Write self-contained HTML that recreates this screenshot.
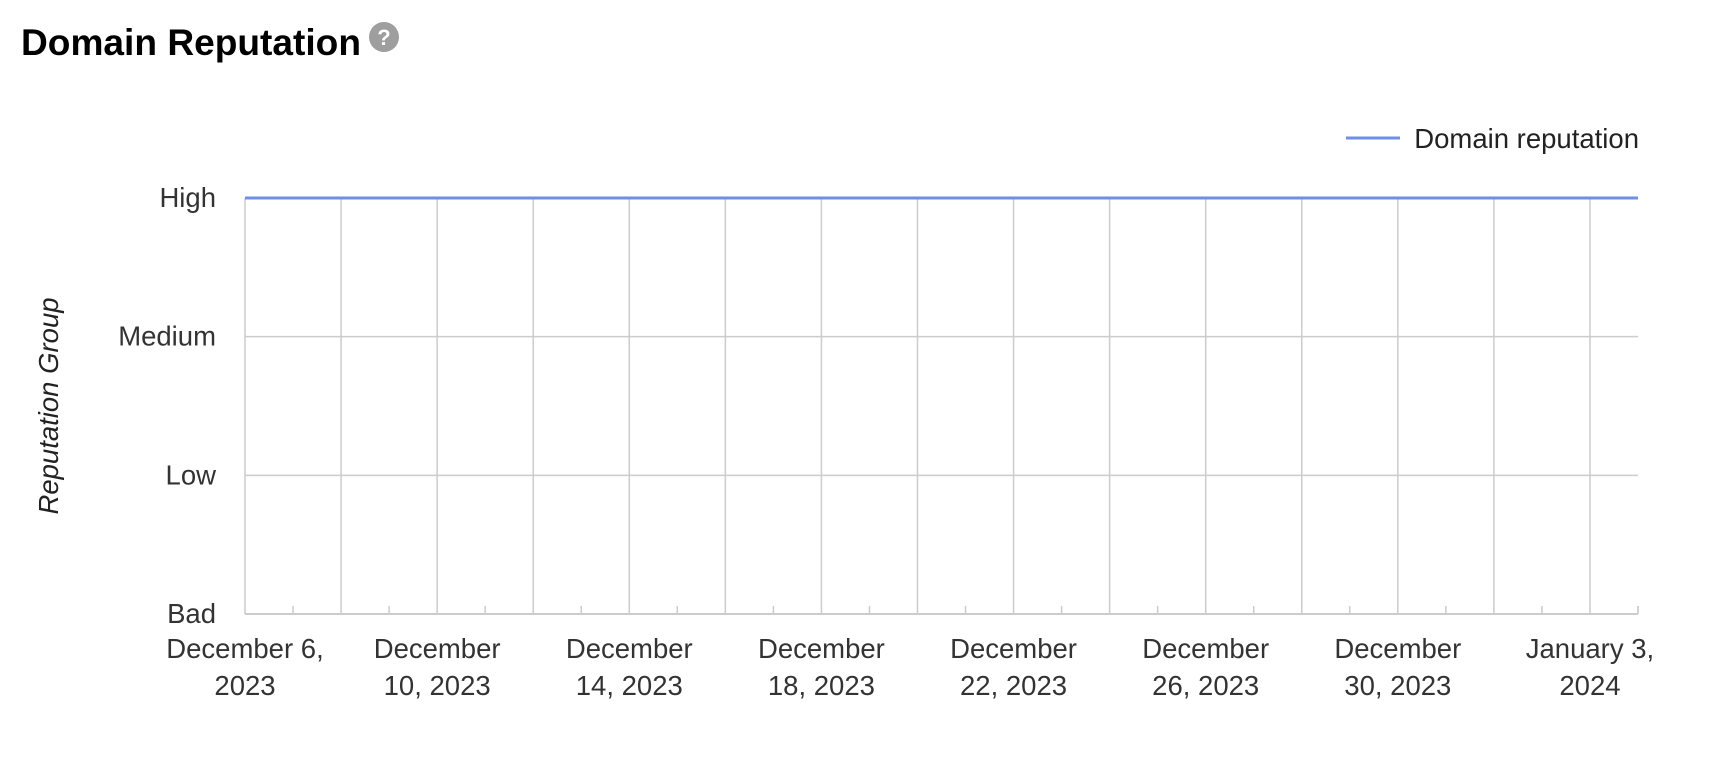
<!DOCTYPE html>
<html><head><meta charset="utf-8">
<style>
html,body{margin:0;padding:0;background:#fff;width:1712px;height:764px;overflow:hidden;font-family:"Liberation Sans",Arial,sans-serif;}
</style></head>
<body>
<svg id="chart" width="1712" height="764" xmlns="http://www.w3.org/2000/svg" font-family="Liberation Sans, Arial, sans-serif">
<text x="21" y="55" font-size="37" font-weight="bold" fill="#000" textLength="340" lengthAdjust="spacingAndGlyphs">Domain Reputation</text>
<g>
<circle cx="384" cy="37" r="15" fill="#9e9e9e"/>
<text x="384" y="45" font-size="22" font-weight="bold" fill="#fff" text-anchor="middle">?</text>
</g>
<g>
<line x1="1346" y1="138" x2="1400" y2="138" stroke="#6d8fe8" stroke-width="3"/>
<text x="1639" y="148" font-size="27.5" fill="#222" text-anchor="end">Domain reputation</text>
</g>
<text transform="translate(58,406) rotate(-90)" font-size="27.5" font-style="italic" fill="#222" text-anchor="middle">Reputation Group</text>
<g id="grid"></g>
<g id="marks"></g>
</svg>
<script>
const levels = ["Bad","Low","Medium","High"];
const tickLabels = [["December 6,","2023"],["December","10, 2023"],["December","14, 2023"],["December","18, 2023"],["December","22, 2023"],["December","26, 2023"],["December","30, 2023"],["January 3,","2024"]];
const days = [0,1,2,3,4,5,6,7,8,9,10,11,12,13,14,15,16,17,18,19,20,21,22,23,24,25,26,27,28,29];
const values = [3,3,3,3,3,3,3,3,3,3,3,3,3,3,3,3,3,3,3,3,3,3,3,3,3,3,3,3,3,3];

const X0=245, X1=1638, Y0=614, Y1=198, NDAYS=29;
const x = d => X0 + (X1-X0)*d/NDAYS;
const y = v => Y0 - (Y0-Y1)*v/(levels.length-1);
const NS="http://www.w3.org/2000/svg";
const grid=document.getElementById('grid'), marks=document.getElementById('marks');
function mk(tag, attrs, parent){const e=document.createElementNS(NS,tag);for(const k in attrs)e.setAttribute(k,attrs[k]);parent.appendChild(e);return e;}

levels.forEach((lab,i)=>{
  if(i>0){
    const l=mk('line',{x1:X0,x2:X1,y1:y(i),y2:y(i),stroke:'#ccc','stroke-width':1.5},grid);
    
    
  }
  const t=mk('text',{x:216,y:y(i)+9,'font-size':27.5,fill:'#333','text-anchor':'end'},grid);
  t.textContent=lab;
  
  
});
for(let d=0; d<=NDAYS; d++){
  if(d%2===0 && d>0 && d<NDAYS){
    const l=mk('line',{x1:x(d),x2:x(d),y1:Y1,y2:Y0,stroke:'#ccc','stroke-width':1.5},grid);
    
    
  } else if(d%2===1){
    const l=mk('line',{x1:x(d),x2:x(d),y1:Y0-8,y2:Y0,stroke:'#ccc','stroke-width':1.5},grid);
    
    
  }
}
const ax=mk('line',{x1:X0,x2:X1,y1:Y0,y2:Y0,stroke:'#ccc','stroke-width':2},grid);


const ly=mk('line',{x1:X0,x2:X0,y1:Y1,y2:Y0,stroke:'#ccc','stroke-width':1.5},grid);


const re=mk('line',{x1:X1,x2:X1,y1:Y0-8,y2:Y0,stroke:'#ccc','stroke-width':1.5},grid);



tickLabels.forEach((lab,i)=>{
  const t=mk('text',{x:x(i*4),'font-size':27.5,fill:'#333','text-anchor':'middle'},grid);
  
  
  lab.forEach((s,j)=>{const ts=mk('tspan',{x:x(i*4),y:658+j*37},t);ts.textContent=s;});
});

const pts=days.map((d,i)=>x(d)+','+y(values[i])).join(' ');
const pl=mk('polyline',{points:pts,fill:'none',stroke:'#6d8fe8','stroke-width':3},marks);


</script>
</body></html>
